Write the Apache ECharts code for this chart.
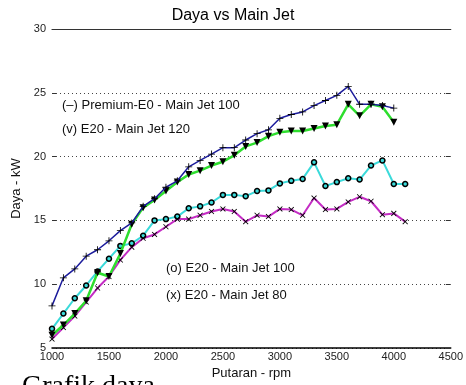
<!DOCTYPE html>
<html>
<head>
<meta charset="utf-8">
<script src="https://cdn.jsdelivr.net/npm/echarts@6/dist/echarts.min.js"></script>
<style>
html, body { margin: 0; padding: 0; background: #fff; }
#chart { width: 466px; height: 385px; }
</style>
</head>
<body>
<div id="chart"></div>
<script>
// putaran mesin (rpm)
var rpm = [1000, 1100, 1200, 1300, 1400, 1500, 1600, 1700, 1800, 1900, 2000, 2100, 2200, 2300, 2400, 2500,
  2600, 2700, 2800, 2900, 3000, 3100, 3200, 3300, 3400, 3500, 3600, 3700, 3800, 3900, 4000, 4100];

// daya (kW)
var premiumE0Jet100 = [8.3, 10.5, 11.2, 12.2, 12.7, 13.4, 14.2, 14.8, 16.1, 16.7, 17.6, 18.1, 19.2, 19.7, 20.2, 20.7,
  20.7, 21.3, 21.8, 22.1, 23.0, 23.3, 23.5, 24.0, 24.4, 24.8, 25.5, 24.1, 24.1, 24.0, 23.8];
var e20Jet120 = [6.0, 6.8, 7.7, 8.7, 10.9, 10.6, 12.4, 14.7, 16.0, 16.6, 17.3, 18.0, 18.6, 18.9, 19.3, 19.6,
  20.1, 20.8, 21.1, 21.6, 21.9, 22.0, 22.0, 22.2, 22.4, 22.5, 24.1, 23.2, 24.1, 23.9, 22.7];
var e20Jet100 = [6.5, 7.7, 8.9, 9.9, 11.0, 12.0, 13.0, 13.2, 13.8, 15.0, 15.1, 15.3, 15.95, 16.1, 16.4, 17.0,
  17.0, 16.9, 17.3, 17.35, 17.9, 18.1, 18.25, 19.55, 17.7, 18.0, 18.3, 18.2, 19.3, 19.7, 17.85, 17.85];
var e20Jet80 = [5.7, 6.6, 7.5, 8.6, 9.7, 10.6, 11.9, 12.9, 13.6, 13.9, 14.5, 15.1, 15.1, 15.4, 15.7, 15.9,
  15.7, 14.9, 15.4, 15.3, 15.9, 15.85, 15.4, 16.75, 15.85, 15.9, 16.45, 16.85, 16.5, 15.45, 15.55, 14.9];

var seriesNames = ['(\u2013) Premium-E0 - Main Jet 100', '(v) E20 - Main Jet 120', '(o) E20 - Main Jet 100', '(x) E20 - Main Jet 80'];

function pairs(vals) {
  return vals.map(function (v, i) { return [rpm[i], v]; });
}

var plusPath = 'path://M-0.6,-5H0.6V-0.6H5V0.6H0.6V5H-0.6V0.6H-5V-0.6H-0.6Z';
var font = 'Liberation Sans, Arial, sans-serif';

var chart = echarts.init(document.getElementById('chart'));

var option = {
  animation: false,
  backgroundColor: '#fff',
  title: {
    text: 'Daya vs Main Jet',
    left: 'center',
    top: 3,
    textStyle: { fontFamily: font, fontSize: 16, fontWeight: 'normal', color: '#000' }
  },
  grid: { left: 52, right: 12, top: 29, bottom: 37 },
  xAxis: [{
    type: 'value',
    min: 1000, max: 4500, interval: 500,
    name: 'Putaran - rpm',
    nameLocation: 'middle',
    nameGap: 18,
    nameTextStyle: { fontFamily: font, fontSize: 13, color: '#111' },
    axisLine: { lineStyle: { color: '#000', width: 1.5 } },
    axisTick: { show: false },
    axisLabel: { fontFamily: font, fontSize: 11, color: '#222', margin: 3, formatter: function (v) { return String(v); } },
    splitLine: { show: false }
  }, {
    type: 'value',
    position: 'top',
    min: 1000, max: 4500,
    axisLine: { show: true, onZero: false, lineStyle: { color: '#333', width: 1.2 } },
    axisTick: { show: false },
    axisLabel: { show: false },
    splitLine: { show: false }
  }],
  yAxis: [{
    type: 'value',
    min: 5, max: 30, interval: 5,
    name: 'Daya - kW',
    nameLocation: 'middle',
    nameGap: 29,
    nameTextStyle: { fontFamily: font, fontSize: 13, color: '#111' },
    axisLine: { show: false },
    axisTick: { show: true, inside: true, length: 4, lineStyle: { color: '#333' } },
    axisLabel: { fontFamily: font, fontSize: 11, color: '#222', margin: 6 },
    splitLine: { show: true, lineStyle: { type: [1, 3], color: '#444', width: 1 } }
  }, {
    type: 'value',
    position: 'right',
    min: 5, max: 30, interval: 5,
    axisLine: { show: false },
    axisTick: { show: true, inside: true, length: 5, lineStyle: { color: '#333' } },
    axisLabel: { show: false },
    splitLine: { show: false }
  }],
  graphic: [
    { type: 'text', left: 62, top: 99, style: { text: seriesNames[0], font: '13px ' + font, fill: '#111' } },
    { type: 'text', left: 62, top: 123, style: { text: seriesNames[1], font: '13px ' + font, fill: '#111' } },
    { type: 'text', left: 166, top: 262, style: { text: seriesNames[2], font: '13px ' + font, fill: '#111' } },
    { type: 'text', left: 166, top: 289, style: { text: seriesNames[3], font: '13px ' + font, fill: '#111' } },
    { type: 'text', left: 22, top: 373, style: { text: 'Grafik daya', font: '28px Liberation Serif, serif', fill: '#000' } }
  ],
  series: [{
    name: seriesNames[0],
    type: 'line',
    data: pairs(premiumE0Jet100),
    symbol: plusPath,
    symbolSize: 7,
    lineStyle: { color: '#1c1c9c', width: 1.5 },
    itemStyle: { color: '#000' },
    z: 4
  }, {
    name: seriesNames[1],
    type: 'line',
    data: pairs(e20Jet120),
    symbol: 'triangle',
    symbolRotate: 180,
    symbolSize: 7,
    lineStyle: { color: '#2ede2e', width: 2.5 },
    itemStyle: { color: '#000' },
    z: 3
  }, {
    name: seriesNames[2],
    type: 'line',
    data: pairs(e20Jet100),
    symbol: 'circle',
    symbolSize: 5,
    lineStyle: { color: '#3adada', width: 2 },
    itemStyle: { color: '#3adada', borderColor: '#000', borderWidth: 1.5 },
    z: 2
  }, {
    name: seriesNames[3],
    type: 'line',
    data: pairs(e20Jet80),
    symbol: plusPath,
    symbolRotate: 45,
    symbolSize: 7,
    lineStyle: { color: '#c42cc4', width: 2 },
    itemStyle: { color: '#000' },
    z: 2
  }]
};

chart.setOption(option);
</script>
</body>
</html>
